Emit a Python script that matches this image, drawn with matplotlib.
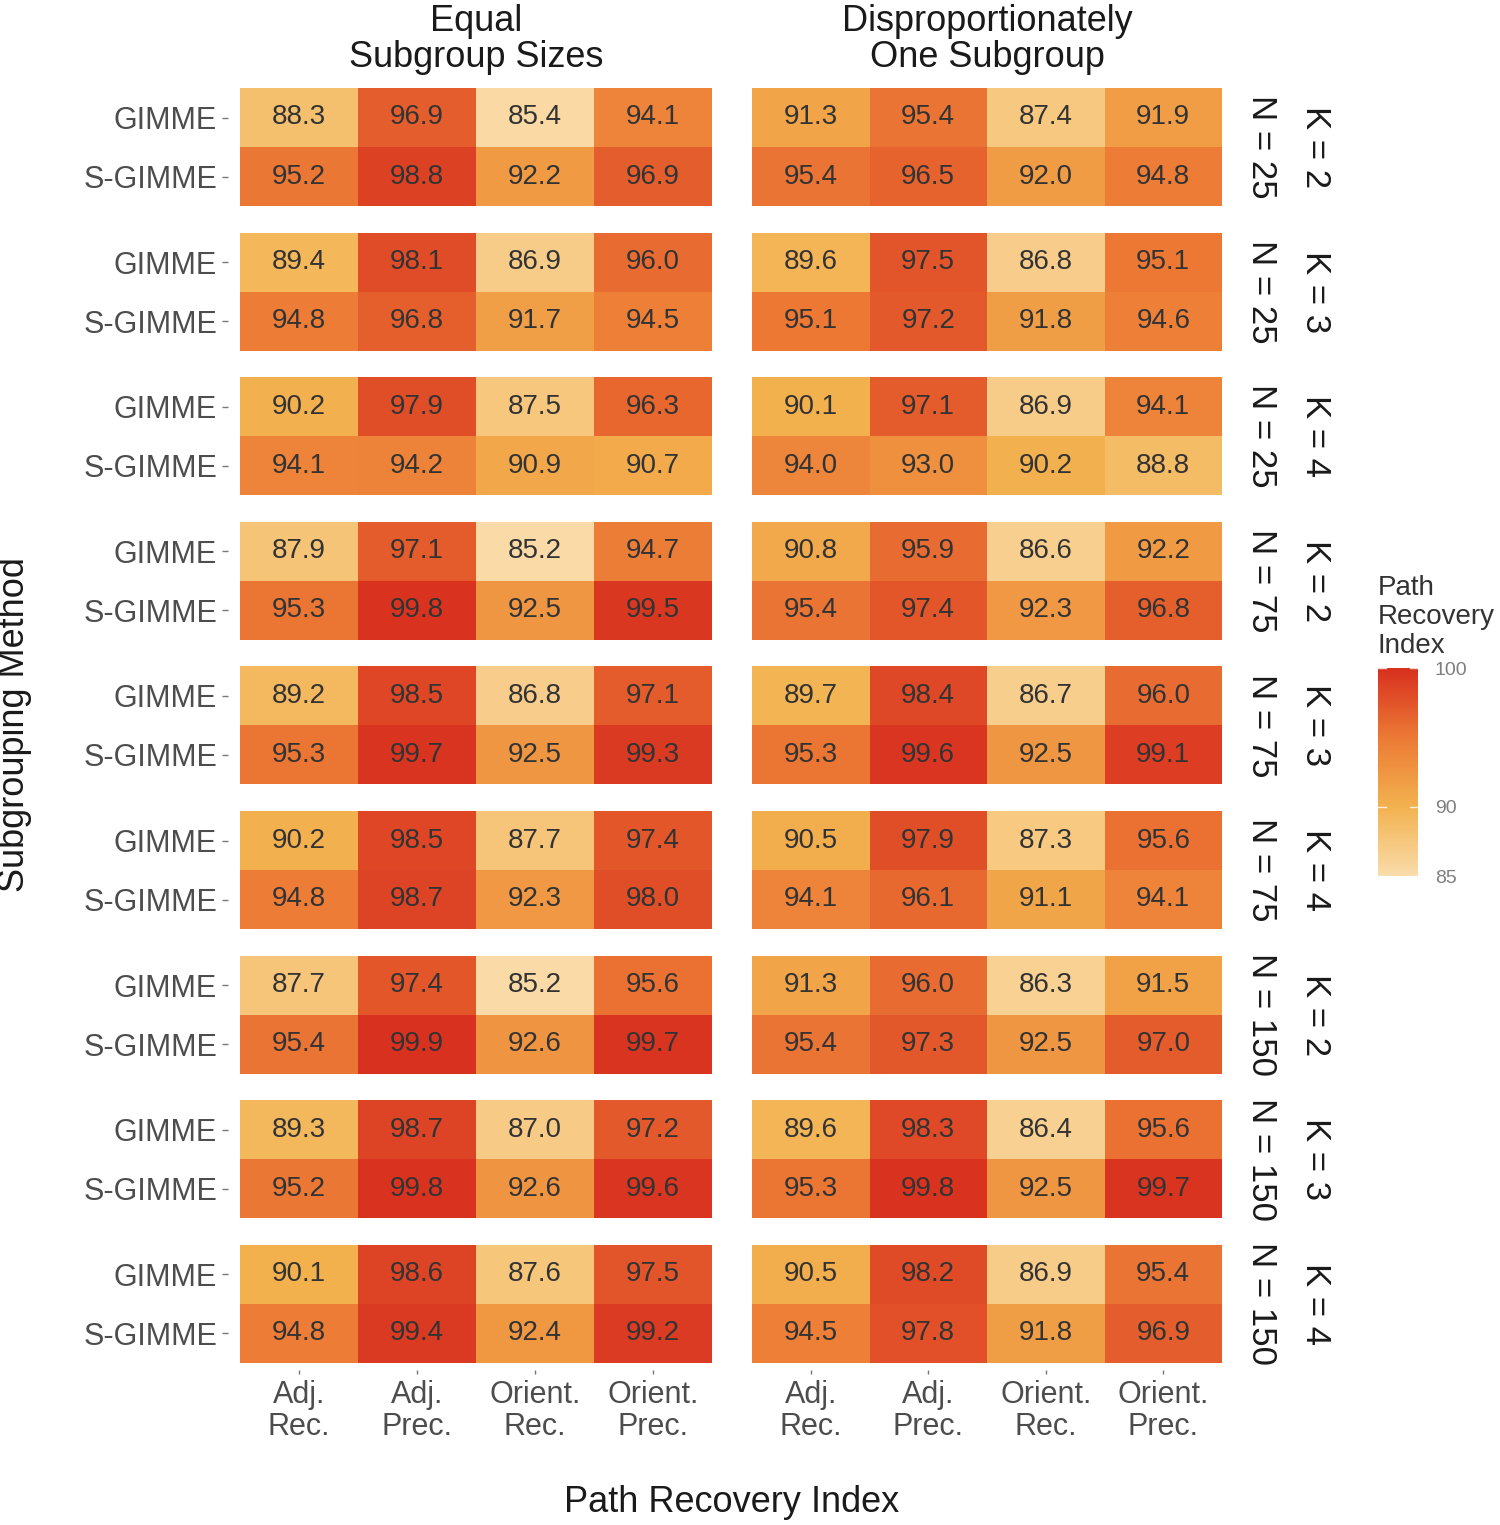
import numpy as np
import matplotlib
matplotlib.use('Agg')
import matplotlib.pyplot as plt
from matplotlib.colors import LinearSegmentedColormap, Normalize

plt.rcParams['font.family'] = ['Liberation Sans', 'DejaVu Sans']

# datos
metricas = ['Adj.\nRec.', 'Adj.\nPrec.', 'Orient.\nRec.', 'Orient.\nPrec.']
metodos = ['GIMME', 'S-GIMME']
columnas = ['Equal\nSubgroup Sizes', 'Disproportionately\nOne Subgroup']
n_etiquetas = ['N = 25', 'N = 25', 'N = 25', 'N = 75', 'N = 75', 'N = 75', 'N = 150', 'N = 150', 'N = 150']
k_etiquetas = ['K = 2', 'K = 3', 'K = 4'] * 3

iguales = [
    [[88.3, 96.9, 85.4, 94.1], [95.2, 98.8, 92.2, 96.9]],
    [[89.4, 98.1, 86.9, 96.0], [94.8, 96.8, 91.7, 94.5]],
    [[90.2, 97.9, 87.5, 96.3], [94.1, 94.2, 90.9, 90.7]],
    [[87.9, 97.1, 85.2, 94.7], [95.3, 99.8, 92.5, 99.5]],
    [[89.2, 98.5, 86.8, 97.1], [95.3, 99.7, 92.5, 99.3]],
    [[90.2, 98.5, 87.7, 97.4], [94.8, 98.7, 92.3, 98.0]],
    [[87.7, 97.4, 85.2, 95.6], [95.4, 99.9, 92.6, 99.7]],
    [[89.3, 98.7, 87.0, 97.2], [95.2, 99.8, 92.6, 99.6]],
    [[90.1, 98.6, 87.6, 97.5], [94.8, 99.4, 92.4, 99.2]],
]
desproporcion = [
    [[91.3, 95.4, 87.4, 91.9], [95.4, 96.5, 92.0, 94.8]],
    [[89.6, 97.5, 86.8, 95.1], [95.1, 97.2, 91.8, 94.6]],
    [[90.1, 97.1, 86.9, 94.1], [94.0, 93.0, 90.2, 88.8]],
    [[90.8, 95.9, 86.6, 92.2], [95.4, 97.4, 92.3, 96.8]],
    [[89.7, 98.4, 86.7, 96.0], [95.3, 99.6, 92.5, 99.1]],
    [[90.5, 97.9, 87.3, 95.6], [94.1, 96.1, 91.1, 94.1]],
    [[91.3, 96.0, 86.3, 91.5], [95.4, 97.3, 92.5, 97.0]],
    [[89.6, 98.3, 86.4, 95.6], [95.3, 99.8, 92.5, 99.7]],
    [[90.5, 98.2, 86.9, 95.4], [94.5, 97.8, 91.8, 96.9]],
]

# escala de color
cmap = LinearSegmentedColormap.from_list(
    'ruta', [(0.0, '#FADCAB'), (1/3, '#F3B24F'), (2/3, '#EC7A35'), (1.0, '#D8301F')])
norm = Normalize(vmin=85, vmax=100)

W, H = 1500, 1525
fig = plt.figure(figsize=(W / 100, H / 100), dpi=100)

def caja(x0, y0, w, h):
    return [x0 / W, 1 - (y0 + h) / H, w / W, h / H]

gris = '#4D4D4D'
paneles_x = [(240, 472), (752, 470)]
for c, datos in enumerate([iguales, desproporcion]):
    x0, w = paneles_x[c]
    for r in range(9):
        y0 = 88 + r * 144.6
        ax = fig.add_axes(caja(x0, y0, w, 118))
        m = np.array(datos[r])
        ax.pcolormesh(np.arange(5), np.arange(3), m, cmap=cmap, norm=norm)
        ax.set_xlim(0, 4)
        ax.set_ylim(2, 0)
        for i in range(2):
            for j in range(4):
                ax.text(j + 0.5, i + 0.5, f'{m[i, j]:.1f}', ha='center', va='center',
                        fontsize=20, color='#333333')
        for s in ax.spines.values():
            s.set_visible(False)
        ax.spines['left'].set_position(('outward', 8.5))
        ax.spines['bottom'].set_position(('outward', 5.5))
        ax.tick_params(length=4, color='#777777', width=1, labelcolor=gris, labelsize=22)
        ax.tick_params(axis='y', pad=4)
        ax.tick_params(axis='x', pad=4, length=3)
        if c == 0:
            ax.set_yticks([0.5, 1.5], metodos)
        else:
            ax.set_yticks([])
        if r == 8:
            ax.set_xticks([0.5, 1.5, 2.5, 3.5], metricas)
            for t in ax.get_xticklabels():
                t.set_linespacing(1.08)
        else:
            ax.set_xticks([])
        if c == 1:
            yc = 1 - (y0 + 59) / H
            fig.text(1262 / W, yc, n_etiquetas[r], rotation=270, ha='center', va='center',
                     fontsize=25, color='#1A1A1A')
            fig.text(1315 / W, yc, k_etiquetas[r], rotation=270, ha='center', va='center',
                     fontsize=25, color='#1A1A1A')
        if r == 0:
            ax.set_title(columnas[c], fontsize=26, color='#1A1A1A', pad=15, linespacing=1.03)

fig.text(732 / W, 1 - 1503 / H, 'Path Recovery Index', ha='center', va='center',
         fontsize=26, color='#1A1A1A')
fig.text(15 / W, 1 - 725 / H, 'Subgrouping Method', rotation=90, ha='center', va='center',
         fontsize=26, color='#1A1A1A')

# barra de color
cax = fig.add_axes(caja(1378, 668, 40, 208))
grad = np.linspace(85, 100, 256).reshape(-1, 1)
cax.imshow(grad, aspect='auto', cmap=cmap, norm=norm, origin='lower', extent=[0, 1, 85, 100])
cax.set_xticks([])
cax.yaxis.tick_right()
cax.set_yticks([85, 90, 100])
cax.tick_params(axis='y', length=0, labelsize=14, labelcolor='#7F7F7F', pad=12)
for v in [85, 90, 100]:
    cax.plot([0, 0.2], [v, v], color='white', lw=1, alpha=0.8)
    cax.plot([0.8, 1], [v, v], color='white', lw=1, alpha=0.8)
cax.set_xlim(0, 1)
cax.set_ylim(85, 100)
for s in cax.spines.values():
    s.set_visible(False)
fig.text(1378 / W, 1 - 617 / H, 'Path\nRecovery\nIndex', ha='left', va='center',
         fontsize=20, color='#333333', linespacing=1.15)

fig.savefig('out.png', dpi=100)
